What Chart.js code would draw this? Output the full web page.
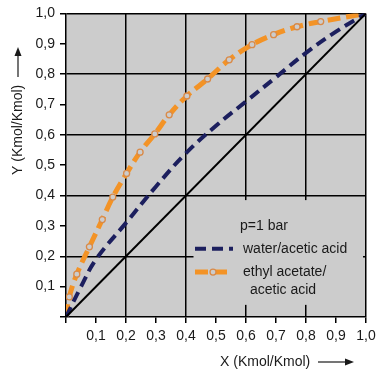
<!DOCTYPE html>
<html>
<head>
<meta charset="utf-8">
<script src="https://cdn.jsdelivr.net/npm/chart.js@4.4.0/dist/chart.umd.min.js"></script>
<style>
  html, body { margin: 0; padding: 0; background: #fff; }
  #wrap { width: 386px; height: 374px; }
</style>
</head>
<body>
<div id="wrap"><canvas id="myChart" width="386" height="374"></canvas></div>
<script>
// x / y mole fractions
var diagX = [0, 1];
var diagY = [0, 1];

var waterX = [0, 0.05, 0.1, 0.2, 0.3, 0.4, 0.5, 0.6, 0.7, 0.8, 0.9, 1.0];
var waterY = [0, 0.10, 0.19, 0.31, 0.43, 0.54, 0.63, 0.71, 0.79, 0.87, 0.94, 1.0];

var ethylX = [0, 0.011, 0.036, 0.078, 0.121, 0.156, 0.202, 0.247, 0.296, 0.344, 0.403, 0.472, 0.544, 0.62, 0.692, 0.77, 0.849, 1.0];
var ethylY = [0, 0.066, 0.141, 0.231, 0.321, 0.395, 0.473, 0.543, 0.603, 0.666, 0.728, 0.784, 0.847, 0.897, 0.93, 0.956, 0.973, 1.0];

var tickValues = [0.1, 0.2, 0.3, 0.4, 0.5, 0.6, 0.7, 0.8, 0.9, 1.0];
var legendTitle = "p=1 bar";
var legendLabels = [["water/acetic acid"], ["ethyl acetate/", "acetic acid"]];
var xTitle = "X (Kmol/Kmol)";
var yTitle = "Y (Kmol/Kmol)";

var FONT = "'Liberation Sans', Arial, sans-serif";
var BLUE = "#1c1f5e";
var ORANGE = "#f39326";

function pts(xs, ys) {
  return xs.map(function (x, i) { return { x: x, y: ys[i] }; });
}

function fmt(v) {
  if (Math.abs(v) < 1e-9) return "";
  return v.toFixed(1).replace(".", ",");
}

function gridColor(c) {
  var v = Math.round(c.tick.value * 10);
  return (v % 2 === 0 && v !== 0) ? "#000" : "rgba(0,0,0,0)";
}

function arrow(ctx, x1, y1, x2, y2) {
  var a = Math.atan2(y2 - y1, x2 - x1);
  ctx.beginPath();
  ctx.moveTo(x1, y1);
  ctx.lineTo(x2 - 6 * Math.cos(a), y2 - 6 * Math.sin(a));
  ctx.stroke();
  ctx.beginPath();
  ctx.moveTo(x2, y2);
  ctx.lineTo(x2 - 9 * Math.cos(a) + 3.5 * Math.sin(a), y2 - 9 * Math.sin(a) - 3.5 * Math.cos(a));
  ctx.lineTo(x2 - 9 * Math.cos(a) - 3.5 * Math.sin(a), y2 - 9 * Math.sin(a) + 3.5 * Math.cos(a));
  ctx.closePath();
  ctx.fill();
}

var backdrop = {
  id: "backdrop",
  beforeDraw: function (chart) {
    var a = chart.chartArea, ctx = chart.ctx;
    ctx.save();
    ctx.fillStyle = "#cccccc";
    ctx.fillRect(a.left, a.top, a.right - a.left, a.bottom - a.top);
    ctx.restore();
  },
  beforeDatasetsDraw: function (chart) {
    // legend box, same grey as the plot, hides the grid behind it
    var xs = chart.scales.x, ys = chart.scales.y, ctx = chart.ctx;
    var l = xs.getPixelForValue(0.425), r = xs.getPixelForValue(0.99);
    var t = ys.getPixelForValue(0.385), b = ys.getPixelForValue(0.04);
    ctx.save();
    ctx.fillStyle = "#cccccc";
    ctx.fillRect(l, t, r - l, b - t);
    ctx.restore();
  },
  afterDraw: function (chart) {
    var xs = chart.scales.x, ys = chart.scales.y, ctx = chart.ctx;
    var ds = chart.data.datasets;
    ctx.save();
    ctx.fillStyle = "#1a1a1a";
    ctx.font = "14px " + FONT;
    ctx.textBaseline = "middle";

    // legend
    var x0 = xs.getPixelForValue(0.43);
    var tx = xs.getPixelForValue(0.59);
    ctx.textAlign = "left";
    ctx.fillText(legendTitle, xs.getPixelForValue(0.58), ys.getPixelForValue(0.30));

    var rows = [ys.getPixelForValue(0.225), ys.getPixelForValue(0.148)];
    [1, 2].forEach(function (di, i) {
      var d = ds[di], y = rows[i];
      ctx.save();
      ctx.strokeStyle = d.borderColor;
      ctx.lineWidth = d.borderWidth;
      ctx.setLineDash(d.borderDash);
      ctx.beginPath();
      ctx.moveTo(x0, y);
      ctx.lineTo(x0 + 38, y);
      ctx.stroke();
      if (di === 2) {
        ctx.setLineDash([]);
        ctx.fillStyle = "#cccccc";
        ctx.strokeStyle = d.pointBorderColor;
        ctx.lineWidth = 1.3;
        ctx.beginPath();
        ctx.arc(x0 + 18, y, 3, 0, Math.PI * 2);
        ctx.fill();
        ctx.stroke();
      }
      ctx.restore();
      legendLabels[i].forEach(function (line, k) {
        ctx.fillText(line, tx + (k ? 7 : 0), y + k * 18);
      });
    });

    // axis titles with arrows
    ctx.strokeStyle = "#1a1a1a";
    ctx.lineWidth = 1.2;
    ctx.textAlign = "left";
    ctx.fillText(xTitle, 220, 362);
    arrow(ctx, 318, 362, 354, 362);

    ctx.translate(18, 175);
    ctx.rotate(-Math.PI / 2);
    ctx.fillText(yTitle, 0, 0);
    arrow(ctx, 98, 0, 128, 0);
    ctx.restore();
  }
};

window.onload = function () {
  var ctx = document.getElementById("myChart").getContext("2d");

  var myChart = new Chart(ctx, {
    type: "line",
    data: {
      datasets: [
        {
          label: "diagonal",
          data: pts(diagX, diagY),
          borderColor: "#000",
          borderWidth: 2,
          pointRadius: 0,
          fill: false
        },
        {
          label: legendLabels[0].join(" "),
          data: pts(waterX, waterY),
          borderColor: BLUE,
          borderWidth: 4,
          borderDash: [11, 6],
          pointRadius: 0,
          tension: 0.4,
          fill: false
        },
        {
          label: legendLabels[1].join(" "),
          data: pts(ethylX, ethylY),
          borderColor: ORANGE,
          borderWidth: 5,
          borderDash: [13, 6],
          pointRadius: ethylX.map(function (x) { return (x === 0 || x === 1) ? 0 : 3; }),
          pointBackgroundColor: "#cccccc",
          pointBorderColor: "#d98a48",
          pointBorderWidth: 1.3,
          tension: 0.4,
          fill: false
        }
      ]
    },
    options: {
      responsive: false,
      animation: false,
      layout: { padding: { top: 13, right: 20, left: 0, bottom: 0 } },
      plugins: {
        legend: { display: false },
        tooltip: { enabled: false }
      },
      scales: {
        x: {
          type: "linear",
          min: 0,
          max: 1,
          afterFit: function (s) { s.height = 57; },
          afterBuildTicks: function (s) {
            s.ticks = [{ value: 0 }].concat(tickValues.map(function (v) { return { value: v }; }));
          },
          ticks: {
            callback: fmt,
            color: "#1a1a1a",
            font: { family: FONT, size: 14 },
            padding: 5,
            maxRotation: 0,
            autoSkip: false
          },
          grid: { color: gridColor, tickColor: "#000", tickLength: 6, lineWidth: 1.5 },
          border: { color: "#000", width: 1.5 }
        },
        y: {
          type: "linear",
          min: 0,
          max: 1,
          afterFit: function (s) { s.width = 66; },
          afterBuildTicks: function (s) {
            s.ticks = [{ value: 0 }].concat(tickValues.map(function (v) { return { value: v }; }));
          },
          ticks: {
            callback: fmt,
            color: "#1a1a1a",
            font: { family: FONT, size: 14 },
            padding: 5,
            autoSkip: false
          },
          grid: { color: gridColor, tickColor: "#000", tickLength: 6, lineWidth: 1.5 },
          border: { color: "#000", width: 1.5 }
        }
      }
    },
    plugins: [backdrop]
  });
};
</script>
</body>
</html>
